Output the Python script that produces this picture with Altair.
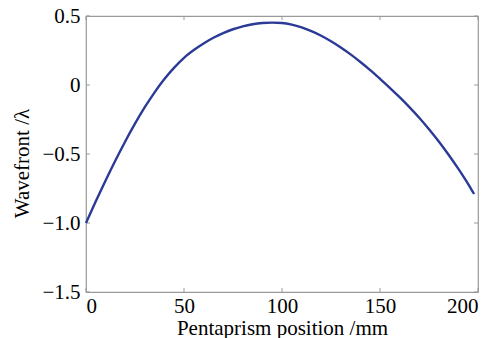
import altair as alt
import pandas as pd

position = [0, 5, 10, 15, 20, 25, 30, 35, 40, 45, 50, 55, 60, 65, 70, 75, 80, 85, 90, 95,
            100, 105, 110, 115, 120, 125, 130, 135, 140, 145, 150, 155, 160, 165, 170,
            175, 180, 185, 190, 195, 198]
wavefront = [-1.00, -0.843, -0.692, -0.547, -0.409, -0.28, -0.161, -0.053, 0.043, 0.126, 0.197,
             0.253, 0.301, 0.342, 0.376, 0.404, 0.425, 0.440, 0.449, 0.452,
             0.449, 0.437, 0.417, 0.39, 0.357, 0.317, 0.272, 0.222, 0.167, 0.108, 0.045,
             -0.02, -0.088, -0.16, -0.237, -0.32, -0.409, -0.505, -0.608, -0.718, -0.79]
x_ticks = [0, 50, 100, 150, 200]
y_ticks = [0.5, 0, -0.5, -1.0, -1.5]

W, H = 392, 276
FONT = "Liberation Serif"
FRAME = "#9a9a9a"

df = pd.DataFrame({"pos": position, "wf": wavefront})
xt = pd.DataFrame({"v": x_ticks})
yt = pd.DataFrame({"v": y_ticks})

xscale = alt.Scale(domain=[0, 200], nice=False, zero=False)
yscale = alt.Scale(domain=[-1.5, 0.5], nice=False, zero=False)

line = alt.Chart(df).mark_line(color="#2b3a96", strokeWidth=2.4, interpolate="monotone").encode(
    x=alt.X("pos:Q", scale=xscale,
            axis=alt.Axis(title="Pentaprism position /mm", values=x_ticks, ticks=False,
                          domain=False, grid=False, labelPadding=3, titlePadding=1,
                          format="d")),
    y=alt.Y("wf:Q", scale=yscale,
            axis=alt.Axis(title="Wavefront /λ", values=y_ticks, ticks=False,
                          domain=False, grid=False, labelPadding=6, titlePadding=9,
                          titleY=147,
                          labelExpr="datum.value == 0 ? '0' : replace(format(datum.value, '.1f'), '-', '−')")),
)

tick_len = 4
xb = alt.Chart(xt).mark_rule(color=FRAME, strokeWidth=1).encode(
    x=alt.X("v:Q", scale=xscale), y=alt.value(H), y2=alt.value(H - tick_len))
xtop = alt.Chart(xt).mark_rule(color=FRAME, strokeWidth=1).encode(
    x=alt.X("v:Q", scale=xscale), y=alt.value(0), y2=alt.value(tick_len))
yl = alt.Chart(yt).mark_rule(color=FRAME, strokeWidth=1).encode(
    y=alt.Y("v:Q", scale=yscale), x=alt.value(0), x2=alt.value(tick_len))
yr = alt.Chart(yt).mark_rule(color=FRAME, strokeWidth=1).encode(
    y=alt.Y("v:Q", scale=yscale), x=alt.value(W), x2=alt.value(W - tick_len))

chart = alt.layer(xb, xtop, yl, yr, line).properties(
    width=W, height=H,
    autosize=alt.AutoSizeParams(type="none"),
    padding={"left": 86, "top": 16, "right": 17, "bottom": 46},
    background="white",
).configure_view(
    stroke=FRAME, strokeWidth=1.2
).configure_axis(
    labelFont=FONT, titleFont=FONT, labelFontSize=21, titleFontSize=21,
    labelColor="black", titleColor="black", titleFontWeight="normal",
)

chart.save("out.html", embed_options={"renderer": "svg", "actions": False})
